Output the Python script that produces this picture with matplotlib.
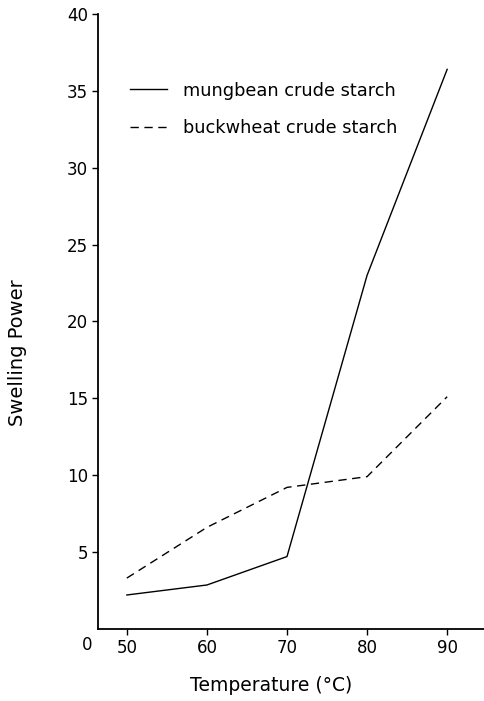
import numpy as np
import matplotlib.pyplot as plt

plt.rcParams['font.family'] = ['DejaVu Sans']

temps = [50, 60, 70, 80, 90]
mungbean = [2.2, 2.85, 4.7, 23.0, 36.4]
buckwheat = [3.3, 6.6, 9.2, 9.9, 15.1]

fig = plt.figure(figsize=(4.84, 7.01), dpi=100)
ax = fig.add_axes([0.2025, 0.103, 0.7975, 0.877])

ax.plot(temps, mungbean, color='black', lw=1.0, label='mungbean crude starch')
ax.plot(temps, buckwheat, color='black', lw=1.0, dashes=(6, 4),
        label='buckwheat crude starch')

ax.set_xlim(46.4, 94.6)
ax.set_ylim(0, 40)
ax.set_xticks([50, 60, 70, 80, 90])
ax.set_yticks([5, 10, 15, 20, 25, 30, 35, 40])
for s in ['top', 'right']:
    ax.spines[s].set_visible(False)
for s in ['left', 'bottom']:
    ax.spines[s].set_linewidth(1.3)
ax.tick_params(direction='out', length=4, width=1, labelsize=12, pad=3)

ax.annotate('0', xy=(0, 0), xycoords='axes fraction', xytext=(-4, -5),
            textcoords='offset points', ha='right', va='top', fontsize=12)

ax.set_xlabel('Temperature (°C)', fontsize=13.5)
ax.set_ylabel('Swelling Power', fontsize=14)
ax.xaxis.set_label_coords(0.448, -0.076)
ax.yaxis.set_label_coords(-0.185, 0.449)

ax.legend(loc='upper left', bbox_to_anchor=(0.041, 0.916), frameon=False,
          fontsize=12.8, handlelength=2.1, handletextpad=0.9, labelspacing=1.1)

fig.savefig('out.png', dpi=100)
